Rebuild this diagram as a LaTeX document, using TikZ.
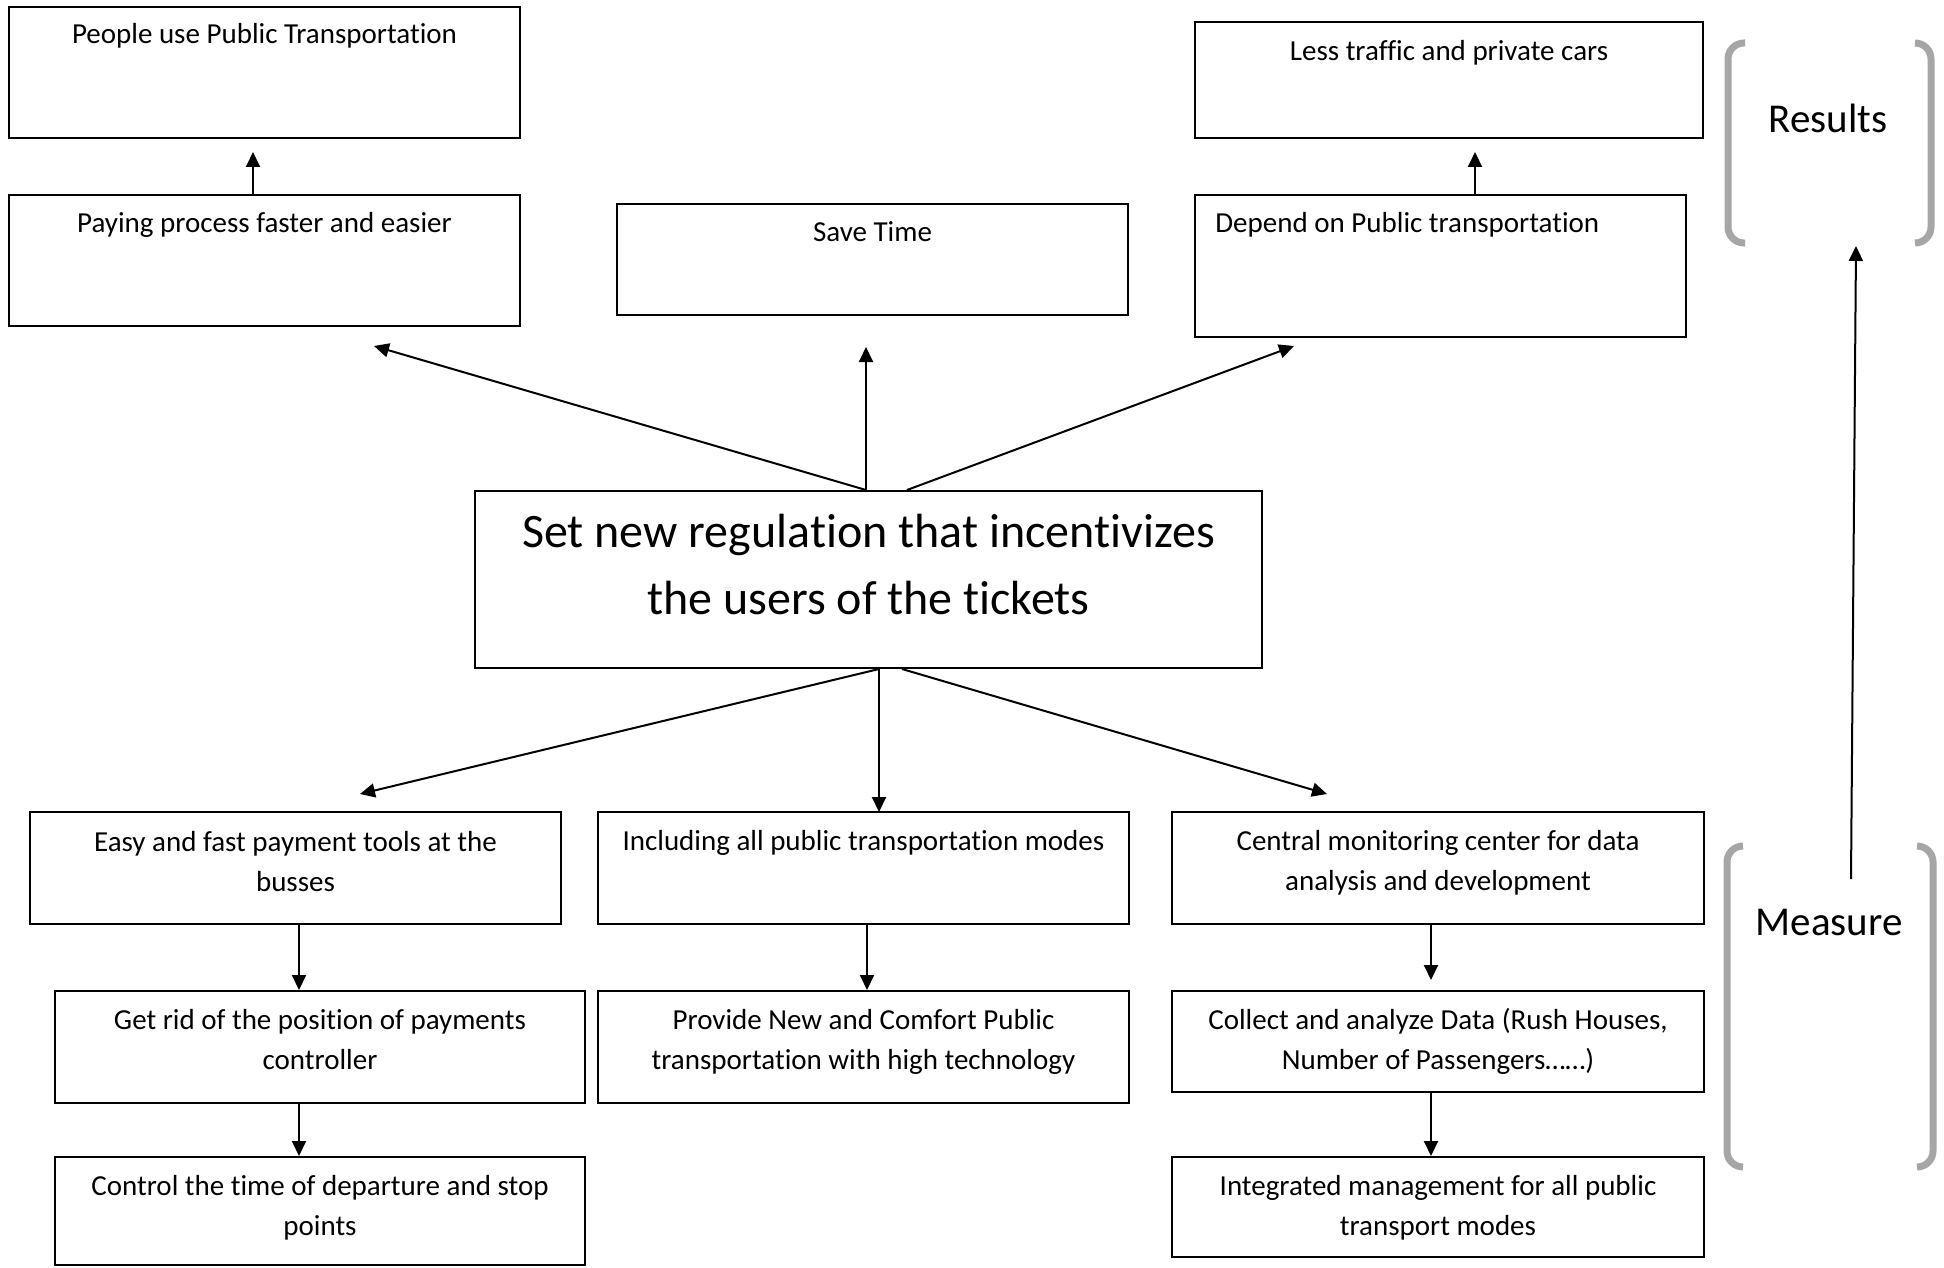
\documentclass[tikz,border=0pt]{standalone}
\usepackage{fontspec}
\setmainfont{Carlito}[Ligatures={NoCommon}]
\usetikzlibrary{arrows.meta,fit}
\definecolor{bracketgray}{HTML}{A6A6A6}
\begin{document}
\begin{tikzpicture}[x=0.5pt,y=-0.5pt,
  box/.style={draw=black, line width=1pt, inner sep=0pt},
  txt/.style={font=\fontsize{14.5}{20}\selectfont, inner sep=0pt, align=center},
  bigtxt/.style={font=\fontsize{24}{33.5}\selectfont, inner sep=0pt, align=center},
  sidetxt/.style={font=\fontsize{20.5}{25}\selectfont, inner sep=0pt},
  arr/.style={-{Triangle[length=7.5pt,width=7pt]}, line width=1pt},
  bracket/.style={draw=bracketgray, line width=3.5pt, rounded corners=8pt}]
\useasboundingbox (0,0) rectangle (1944,1268);

% ---- result boxes (top row) ----
\node[box, fit={(9,7) (520,138)}] (people) {};
\node[txt, anchor=base] (peoplet) at ([yshift=-19pt]people.north) {People use Public Transportation};
\node[box, fit={(9,195) (520,326)}] (paying) {};
\node[txt, anchor=base] (payingt) at ([yshift=-19pt]paying.north) {Paying process faster and easier};
\node[box, fit={(617,204) (1128,315)}] (save) {};
\node[txt, anchor=base] (savet) at ([yshift=-19.5pt]save.north) {Save Time};
\node[box, fit={(1195,22) (1703,138)}] (less) {};
\node[txt, anchor=base] (lesst) at ([yshift=-20pt]less.north) {Less traffic and private cars};
\node[box, fit={(1195,195) (1686,337)}] (depend) {};
\node[txt, anchor=base west] (dependt) at ([xshift=10.5pt,yshift=-19pt]depend.north west) {Depend on Public transportation};

% ---- central regulation box (base anchor sits on the last line) ----
\node[box, fit={(475,491) (1262,668)}] (ctr) {};
\node[bigtxt, anchor=base] (ctrt) at ([yshift=-62pt]ctr.north) {Set new regulation that incentivizes\\the users of the tickets};

% ---- measure boxes (bottom rows) ----
\node[box, fit={(30,812) (561,924)}] (easy) {};
\node[txt, anchor=base] (easyt) at ([yshift=-40pt]easy.north) {Easy and fast payment tools at the\\busses};
\node[box, fit={(598,812) (1129,924)}] (incl) {};
\node[txt, anchor=base] (inclt) at ([yshift=-19.5pt]incl.north) {Including all public transportation modes};
\node[box, fit={(1172,812) (1704,924)}] (cmc) {};
\node[txt, anchor=base] (cmct) at ([yshift=-39.5pt]cmc.north) {Central monitoring center for data\\analysis and development};

\node[box, fit={(55,991) (585,1103)}] (getrid) {};
\node[txt, anchor=base] (getridt) at ([yshift=-39.5pt]getrid.north) {Get rid of the position of payments\\controller};
\node[box, fit={(598,991) (1129,1103)}] (provide) {};
\node[txt, anchor=base] (providet) at ([yshift=-39.5pt]provide.north) {Provide New and Comfort Public\\transportation with high technology};
\node[box, fit={(1172,991) (1704,1092)}] (collect) {};
\node[txt, anchor=base] (collectt) at ([yshift=-39.5pt]collect.north) {Collect and analyze Data (Rush Houses,\\Number of Passengers……)};

\node[box, fit={(55,1157) (585,1265)}] (control) {};
\node[txt, anchor=base] (controlt) at ([yshift=-39.5pt]control.north) {Control the time of departure and stop\\points};
\node[box, fit={(1172,1157) (1704,1257)}] (integ) {};
\node[txt, anchor=base] (integt) at ([yshift=-39.5pt]integ.north) {Integrated management for all public\\transport modes};

% ---- side brackets and labels ----
\draw[bracket] (1745,43) -- (1728,43) -- (1728,243) -- (1745,243);
\draw[bracket] (1915,43) -- (1931,43) -- (1931,243) -- (1915,243);
\node[sidetxt, anchor=base] (results) at (1828,133) {Results};
\draw[bracket] (1743,846) -- (1727,846) -- (1727,1167) -- (1743,1167);
\draw[bracket] (1917,846) -- (1933,846) -- (1933,1167) -- (1917,1167);
\node[sidetxt, anchor=base] (measure) at (1829,935) {Measure};

\coordinate (mfoot) at (1851,879);
\coordinate (rtip) at (1856,246);
\draw[arr] (mfoot) -- (rtip);

% ---- arrows out of the regulation box ----
\coordinate (tl) at (374,346);
\coordinate (tm) at (866,347);
\coordinate (tr) at (1294,346);
\coordinate (bl) at (360,794);
\coordinate (bm) at (879,812);
\coordinate (br) at (1327,794);
\draw[arr] ([xshift=-1.25pt]ctr.north) -- (tl);
\draw[arr] ([xshift=-1.25pt]ctr.north) -- (tm);
\draw[arr] ([xshift=19.25pt]ctr.north) -- (tr);
\draw[arr] ([xshift=5.25pt]ctr.south) -- (bl);
\draw[arr] ([xshift=5.25pt]ctr.south) -- (bm);
\draw[arr] ([xshift=16.75pt]ctr.south) -- (br);

% ---- arrows between stacked boxes ----
\draw[arr] ([xshift=-5.75pt]paying.north) -- ++(0,-42);
\draw[arr] ([xshift=17.25pt]depend.north) -- ++(0,-42);
\draw[arr] ([xshift=1.75pt]easy.south) -- ([xshift=-10.5pt]getrid.north);
\draw[arr] ([xshift=-10.5pt]getrid.south) -- ([xshift=-10.5pt]control.north);
\draw[arr] ([xshift=1.75pt]incl.south) -- ([xshift=1.75pt]provide.north);
\draw[arr] ([xshift=-3.5pt]cmc.south) -- ++(0,55);
\draw[arr] ([xshift=-3.5pt]collect.south) -- ([xshift=-3.5pt]integ.north);
\end{tikzpicture}
\end{document}
